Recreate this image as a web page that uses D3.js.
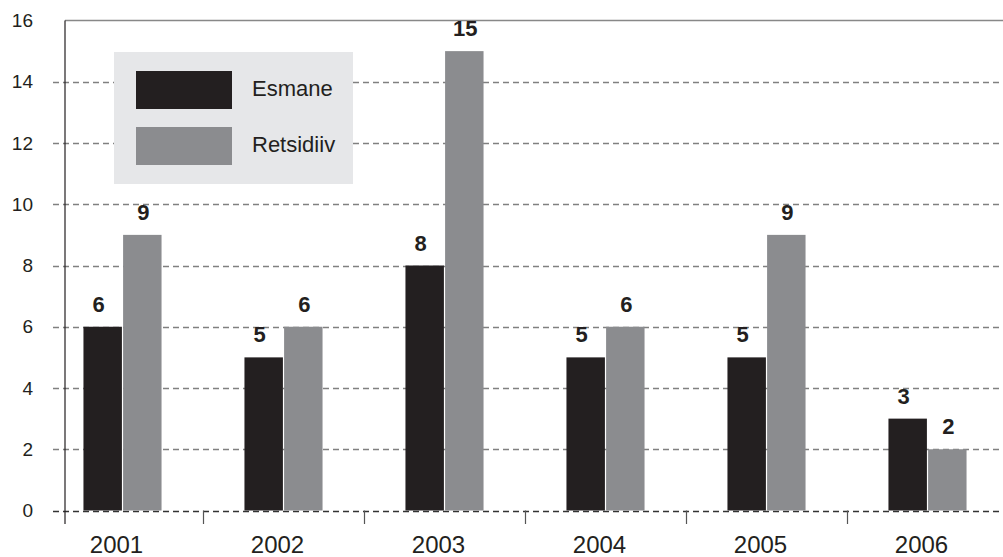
<!DOCTYPE html>
<html>
<head>
<meta charset="utf-8">
<script src="https://cdn.jsdelivr.net/npm/d3@7/dist/d3.min.js"></script>
<style>
  html, body { margin: 0; padding: 0; background: #fff; }
  svg { display: block; font-family: "Liberation Sans", Arial, sans-serif; }
</style>
</head>
<body>
<svg id="chart" width="1003" height="557"></svg>
<script>
const years = ["2001", "2002", "2003", "2004", "2005", "2006"];
const seriesNames = ["Esmane", "Retsidiiv"];
const esmane = [6, 5, 8, 5, 5, 3];
const retsidiiv = [9, 6, 15, 6, 9, 2];
const yTicks = [0, 2, 4, 6, 8, 10, 12, 14, 16];
const colors = ["#231f20", "#8b8c8f"];

(function () {
const svg = d3.select("#chart");
const W = 1003;
const plotLeft = 65, plotTop = 20.5, plotBottom = 510.5;

const y = d3.scaleLinear().domain([0, 16]).range([plotBottom, plotTop]);
const x = d3.scaleBand().domain(years).range([42, 1008]).paddingInner(0.515).paddingOuter(0.2575);
const x1 = d3.scaleBand().domain(seriesNames).range([0, x.bandwidth()]).paddingInner(0.03);
const step = x.step();

// gridlines
svg.append("g").selectAll("line").data(yTicks.filter(t => t < 16)).join("line")
  .attr("x1", 53).attr("x2", W)
  .attr("y1", d => Math.round(y(d)) + 0.5).attr("y2", d => Math.round(y(d)) + 0.5)
  .attr("stroke", d => d === 0 ? "#333" : "#808080")
  .attr("stroke-width", 1.3)
  .attr("stroke-dasharray", "6,4");

// top frame
svg.append("line").attr("x1", plotLeft).attr("x2", W).attr("y1", y(16)).attr("y2", y(16))
  .attr("stroke", "#888").attr("stroke-width", 1.6);

// y tick labels
svg.append("g").selectAll("text").data(yTicks).join("text")
  .attr("x", 33).attr("y", d => y(d)).attr("dy", "0.35em")
  .attr("text-anchor", "end").attr("font-size", 19).attr("fill", "#231f20")
  .text(d => d);

// legend box
const lg = svg.append("g");
lg.append("rect").attr("x", 114).attr("y", 52).attr("width", 239).attr("height", 132).attr("fill", "#e6e7e9");
seriesNames.forEach((s, i) => {
  lg.append("rect").attr("x", 136).attr("y", 71 + i * 56).attr("width", 96).attr("height", 38).attr("fill", colors[i]);
  lg.append("text").attr("x", 252).attr("y", 96 + i * 56).attr("font-size", 22).attr("fill", "#231f20").text(s);
});

// bars
const data = years.map((yr, i) => ({ yr, vals: [esmane[i], retsidiiv[i]] }));
const groups = svg.append("g").selectAll("g").data(data).join("g")
  .attr("transform", d => `translate(${x(d.yr)},0)`);
groups.selectAll("rect").data(d => d.vals.map((v, i) => ({ s: seriesNames[i], v, i }))).join("rect")
  .attr("x", d => x1(d.s)).attr("width", x1.bandwidth())
  .attr("y", d => y(d.v)).attr("height", d => y(0) - y(d.v))
  .attr("fill", d => colors[d.i]);
groups.selectAll("text").data(d => d.vals.map((v, i) => ({ s: seriesNames[i], v, i }))).join("text")
  .attr("x", d => x1(d.s) + x1.bandwidth() / 2 + (d.i === 0 ? -4 : 1))
  .attr("y", d => y(d.v) - 15)
  .attr("text-anchor", "middle").attr("font-size", 22).attr("font-weight", "bold").attr("fill", "#231f20")
  .text(d => d.v);

// y axis line
svg.append("line").attr("x1", plotLeft).attr("x2", plotLeft).attr("y1", plotTop).attr("y2", 524)
  .attr("stroke", "#231f20").attr("stroke-width", 1.2);

// x ticks at band boundaries
svg.append("g").selectAll("line").data(years.slice(1)).join("line")
  .attr("x1", d => Math.round(x(d) - step * x.paddingInner() / 2) + 0.5)
  .attr("x2", d => Math.round(x(d) - step * x.paddingInner() / 2) + 0.5)
  .attr("y1", plotBottom).attr("y2", 524)
  .attr("stroke", "#555").attr("stroke-width", 1.2);

// x labels
svg.append("g").selectAll("text").data(years).join("text")
  .attr("x", d => x(d) + x.bandwidth() / 2 - 6)
  .attr("y", 553)
  .attr("text-anchor", "middle").attr("font-size", 24).attr("fill", "#231f20")
  .text(d => d);
})();
</script>
</body>
</html>
